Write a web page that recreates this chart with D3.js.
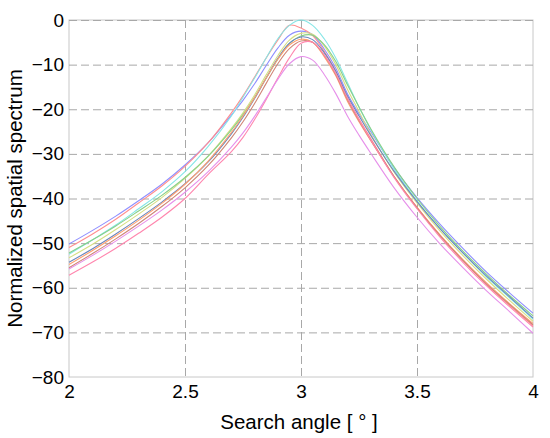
<!DOCTYPE html>
<html>
<head>
<meta charset="utf-8">
<script src="https://cdn.jsdelivr.net/npm/d3@7"></script>
<style>
  body { margin: 0; background: #fff; }
  text { font-family: "Liberation Sans", Arial, sans-serif; }
</style>
</head>
<body>
<script>
// search angle sample points (degrees)
var angles = [2.0, 2.1, 2.2, 2.3, 2.4, 2.5, 2.6, 2.7, 2.75, 2.8, 2.85, 2.9, 2.95, 3.0,
              3.05, 3.1, 3.15, 3.2, 3.25, 3.3, 3.4, 3.5, 3.6, 3.7, 3.8, 3.9, 4.0]

// spectra, one per trial (dB)
var blueRun   = [-50.2, -47.2, -44, -40.5, -36.8, -32.5, -27.5, -21.3, -18, -14.3, -10.2, -6.3, -3.4, -2.5,
                 -3.3, -6.5, -10.8, -16.5, -21, -25, -33, -39.8, -45.8, -51.3, -56.5, -61.2, -65.7]
var redRun    = [-51, -48, -44.7, -41, -37.2, -32.8, -27.5, -20.8, -17, -12.8, -8.5, -4.5, -1.2, -1.8,
                 -3.5, -7, -11.5, -17.5, -22.2, -26.5, -35, -42, -48.3, -54, -59.3, -64, -68.5]
var cyanRun   = [-52.5, -49.3, -46, -42.3, -38.5, -34, -28.3, -21.5, -17.3, -13, -8.5, -4.2, -1.2, 0,
                 -1.2, -4.2, -8.5, -14, -19.5, -24.5, -33.3, -40.5, -46.8, -52.3, -57.6, -62.3, -67]
var yellowRun = [-53.3, -50.3, -47, -43.5, -39.8, -35.5, -30.5, -24.3, -20.8, -16.8, -12.3, -8, -4.5, -3,
                 -3.2, -5.8, -10, -15.5, -20.5, -25.5, -34, -41, -47.3, -52.9, -58.1, -62.9, -67.5]
var greenRun  = [-52.2, -49.3, -46.2, -42.8, -39.3, -35.3, -30.5, -24.6, -21.2, -17.3, -13, -8.8, -5.3, -3.6,
                 -3.4, -5.5, -9.3, -14.5, -19.5, -24.3, -32.8, -40, -46.3, -51.9, -57, -61.8, -66.3]
var slateRun  = [-54.3, -51.3, -48, -44.5, -40.8, -36.7, -31.8, -25.5, -21.8, -17.6, -13, -8.6, -5.2, -3.8,
                 -4.4, -7.3, -11.5, -17, -21.5, -25.8, -33.8, -40.7, -46.8, -52.3, -57.4, -62.1, -66.8]
var orangeRun = [-54.8, -51.7, -48.4, -44.9, -41.1, -36.8, -31.6, -25.2, -21.5, -17.4, -13, -8.8, -5.6, -4.3,
                 -5, -8.2, -12.5, -18.2, -22.8, -27, -35, -42, -48.2, -53.8, -58.9, -63.6, -68]
var brownRun  = [-55.5, -52.4, -49.1, -45.6, -41.8, -37.6, -32.6, -26.4, -22.8, -18.7, -14.2, -9.8, -6.4, -4.7,
                 -5, -7.9, -12.2, -17.8, -22.5, -26.8, -35, -42.1, -48.4, -54, -59.2, -63.8, -68.3]
var pinkRun   = [-57.2, -54.3, -51.2, -47.8, -44.2, -40, -34.6, -29.5, -26.3, -22.3, -17.8, -13, -8.5, -5.2,
                 -5, -7.8, -12, -17.5, -22.3, -26.8, -35.2, -42.3, -48.7, -54.4, -59.6, -64.3, -68.8]
var violetRun = [-55.8, -52.8, -49.6, -46.2, -42.6, -38.6, -34, -28.5, -25.3, -21.6, -17.5, -13.3, -9.8, -8.2,
                 -9, -12.2, -16.5, -21.5, -25.8, -29.8, -37.5, -44.2, -50.2, -55.6, -60.7, -65.4, -70.2]

var xTicks = [2, 2.5, 3, 3.5, 4]
var yTicks = [0, -10, -20, -30, -40, -50, -60, -70, -80]

var runs = [
  {vals: blueRun,   color: "#8f8fff"},
  {vals: redRun,    color: "#ff8f8f"},
  {vals: cyanRun,   color: "#86e6e6"},
  {vals: yellowRun, color: "#d6df84"},
  {vals: greenRun,  color: "#88d088"},
  {vals: slateRun,  color: "#6a86bd"},
  {vals: orangeRun, color: "#ffa070"},
  {vals: brownRun,  color: "#cf8577"},
  {vals: pinkRun,   color: "#ff86ae"},
  {vals: violetRun, color: "#e690ea"}
]

var W = 550, H = 438
var margin = {top: 20, right: 17, bottom: 61, left: 69}
var width = W - margin.left - margin.right,
    height = H - margin.top - margin.bottom

var svg = d3.select("body").append("svg")
    .attr("width", W)
    .attr("height", H)

var g = svg.append("g")
    .attr("transform", "translate(" + margin.left + "," + margin.top + ")")

var x = d3.scaleLinear().domain([2, 4]).range([0, width])
var y = d3.scaleLinear().domain([-80, 0]).range([height, 0])

// box
g.append("rect")
    .attr("width", width)
    .attr("height", height)
    .attr("fill", "none")
    .attr("stroke", "#c8c8c8")

// grid
g.append("g").selectAll("line")
    .data(yTicks.filter(function (d) { return d != -80 }))
    .enter().append("line")
    .attr("x1", 0).attr("x2", width)
    .attr("y1", function (d) { return y(d) + 0.5 })
    .attr("y2", function (d) { return y(d) + 0.5 })
    .attr("stroke", "#a8a8a8")
    .attr("stroke-dasharray", "8,4")

g.append("g").selectAll("line")
    .data(xTicks.filter(function (d) { return d != 2 && d != 4 }))
    .enter().append("line")
    .attr("y1", 0).attr("y2", height)
    .attr("x1", function (d) { return Math.round(x(d)) + 0.5 })
    .attr("x2", function (d) { return Math.round(x(d)) + 0.5 })
    .attr("stroke", "#a8a8a8")
    .attr("stroke-dasharray", "8,4")

// curves
var line = d3.line()
    .x(function (d, i) { return x(angles[i]) })
    .y(function (d) { return y(d) })
    .curve(d3.curveCatmullRom)

g.append("g").selectAll("path")
    .data(runs)
    .enter().append("path")
    .attr("d", function (d) { return line(d.vals) })
    .attr("fill", "none")
    .attr("stroke", function (d) { return d.color })
    .attr("stroke-width", 1.1)

// axes
var xAxis = g.append("g")
    .attr("transform", "translate(0," + height + ")")
    .call(d3.axisBottom(x).tickValues(xTicks).tickSize(0).tickPadding(8)
        .tickFormat(d3.format("")))
var yAxis = g.append("g")
    .call(d3.axisLeft(y).tickValues(yTicks).tickSize(0).tickPadding(5))

xAxis.select(".domain").remove()
yAxis.select(".domain").remove()
g.selectAll(".tick text")
    .attr("fill", "#000")
    .style("font-size", "19px")
    .style("font-family", "'Liberation Sans', Arial, sans-serif")

svg.append("text")
    .attr("x", margin.left + width / 2 - 2)
    .attr("y", 429)
    .attr("text-anchor", "middle")
    .style("font-size", "20.5px")
    .text("Search angle [ \u00b0 ]")

svg.append("text")
    .attr("transform", "translate(22," + (margin.top + height / 2) + ") rotate(-90)")
    .attr("text-anchor", "middle")
    .style("font-size", "20.5px")
    .text("Normalized spatial spectrum")
</script>
</body>
</html>
